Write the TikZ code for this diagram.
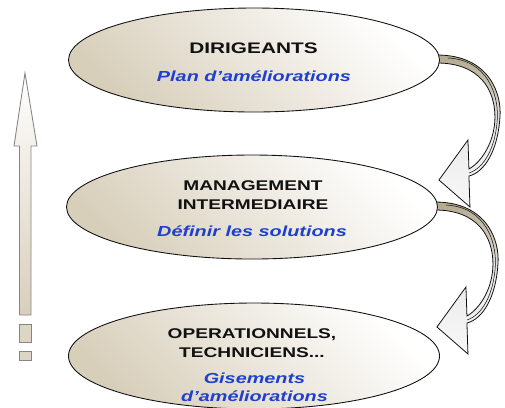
\documentclass[tikz,border=0pt]{standalone}
\usepackage{fontspec}
\newfontfamily\labfont[FakeStretch=1.36]{Liberation Sans}
\usetikzlibrary{shapes.geometric, backgrounds}
\definecolor{c1}{HTML}{111111}
\definecolor{sand}{HTML}{D8CFBB}
\definecolor{tan}{HTML}{B2A98F}
\definecolor{ink}{HTML}{1E3FCF}
\definecolor{edge}{HTML}{858585}

\tikzset{
    loopback/.pic={
        \draw[c1, line width=0.45pt, top color=tan, bottom color=white!97!black,
              middle color=white!92!black]
            (-3,-5) .. controls (50,-5) and (62,35) .. (60,57)
            .. controls (58,90) and (45,112) .. (29,116)
            -- (30,147) -- (-1,120) -- (28,80) -- (29,109)
            .. controls (43,101) and (55,80) .. (55,57)
            .. controls (55,30) and (40,3) .. (-3,3) -- cycle;
        \draw[c1, line width=0.3pt]
            (8,-2) .. controls (48,0) and (58,35) .. (57.5,57)
            .. controls (56,88) and (44,108) .. (29,113);
    }
}

\begin{document}
\begin{tikzpicture}[
    x=0.2mm, y=-0.2mm,
    disc/.style={ellipse, draw=c1, line width=0.5pt, inner sep=0pt,
        minimum width=7.42cm, minimum height=2.08cm,
        top color=white, bottom color=sand, shading angle=-45},
    title/.style={font=\labfont\bfseries\fontsize{8}{10.4}\selectfont,
        text=c1, align=center, inner sep=0pt, anchor=base},
    task/.style={font=\labfont\bfseries\itshape\fontsize{8.3}{9.7}\selectfont,
        text=ink, align=center, inner sep=0pt, anchor=base},
]
\useasboundingbox (0,0) rectangle (505,407);
\clip (0,0) rectangle (505,407);

% the three levels (base = last line)
\node[disc] (top) at (254,60) {};
\node[disc] (mid) at (252,207) {};
\node[disc, minimum height=2.12cm] (low) at (254,356) {};

\node[title, font=\labfont\bfseries\fontsize{8.7}{10.4}\selectfont] (topname) at (253.5,53) {DIRIGEANTS};
\node[task] (toptask) at (254,81.5) {Plan d’améliorations};
\node[title] (midname) at (253,209) {MANAGEMENT\\INTERMEDIAIRE};
\node[task] (midtask) at (252,236) {Définir les solutions};
\node[title, font=\labfont\bfseries\fontsize{8}{10.8}\selectfont] (lowname) at (252,357) {OPERATIONNELS,\\TECHNICIENS...};
\node[task] (lowtask) at (254.5,401) {Gisements\\d’améliorations};

% going down, level by level
\begin{scope}[on background layer]
    \pic at (top.east) {loopback};
    \pic at (mid.east) {loopback};
\end{scope}

% going up
\draw[edge, line width=0.5pt, top color=white, bottom color=sand]
    (19.5,315) -- (19.5,146) -- (14,146) -- (25,73) -- (37,146)
    -- (31,146) -- (31,315) -- cycle;
\draw[edge, line width=0.5pt, fill=sand!85] (19.5,324) rectangle (31,342);
\draw[edge, line width=0.5pt, fill=sand!85] (19.5,351) rectangle (31,360);
\end{tikzpicture}
\end{document}
